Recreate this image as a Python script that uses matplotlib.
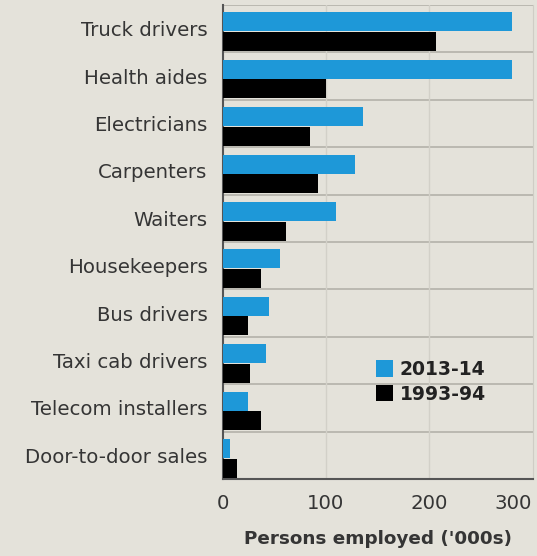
import matplotlib.pyplot as plt
import numpy as np

# datos (miles de personas)
ocupaciones = ["Truck drivers", "Health aides", "Electricians", "Carpenters",
               "Waiters", "Housekeepers", "Bus drivers", "Taxi cab drivers",
               "Telecom installers", "Door-to-door sales"]
v_2013 = [281, 281, 136, 128, 110, 55, 45, 42, 24, 7]
v_1993 = [207, 100, 84, 92, 61, 37, 24, 26, 37, 14]
series = ["2013-14", "1993-94"]
xticks = [0, 100, 200, 300]

fondo = "#e4e2da"
azul = "#1e98d8"
texto = "#353535"

plt.rcParams['font.family'] = ['DejaVu Sans']

fig = plt.figure(figsize=(5.37, 5.56), dpi=100, facecolor=fondo)
ax = fig.add_axes([223/537, 1 - 479/556, 310/537, 474/556])
ax.set_facecolor(fondo)

y = np.arange(len(ocupaciones))
h = 0.4
ax.barh(y - 0.145, v_2013, height=h, color=azul, label=series[0], zorder=3)
ax.barh(y + 0.27, v_1993, height=h, color="black", label=series[1], zorder=3)

# lineas separadoras entre categorias
for s in np.arange(-0.5, len(ocupaciones) + 0.5):
    ax.axhline(s, color="#b3b1a9", lw=1.2, zorder=1)
for xv in [100, 200]:
    ax.axvline(xv, color="#d2d0c8", lw=1, zorder=1)

ax.set_ylim(len(ocupaciones) - 0.5, -0.5)
ax.set_xlim(0, 301)
ax.set_yticks(y)
ax.set_yticklabels(ocupaciones, fontsize=14.2, color=texto)
ax.set_xticks(xticks)
ax.set_xticklabels([str(t) for t in xticks], fontsize=14.2, color=texto)
ax.get_xticklabels()[-1].set_horizontalalignment("right")
ax.tick_params(length=0)
ax.tick_params(axis="y", pad=11)
ax.tick_params(axis="x", pad=11)

ax.spines["top"].set_visible(False)
ax.spines["right"].set_color("#cfcdc5")
ax.spines["left"].set_color("#555555")
ax.spines["left"].set_linewidth(1.5)
ax.spines["bottom"].set_color("#555555")
ax.spines["bottom"].set_linewidth(1.5)

ax.set_xlabel("Persons employed ('000s)", fontsize=13.2, fontweight="bold",
              color=texto, labelpad=12)

leg = ax.legend(loc="center left", bbox_to_anchor=(0.492 - 0.03, 0.205),
                frameon=False, fontsize=13.5, handlelength=0.95,
                handleheight=0.95, handletextpad=0.35, labelspacing=0.3,
                borderpad=0)
for t in leg.get_texts():
    t.set_fontweight("bold")
    t.set_color("#222222")

fig.savefig("out.png", dpi=100, facecolor=fondo)
